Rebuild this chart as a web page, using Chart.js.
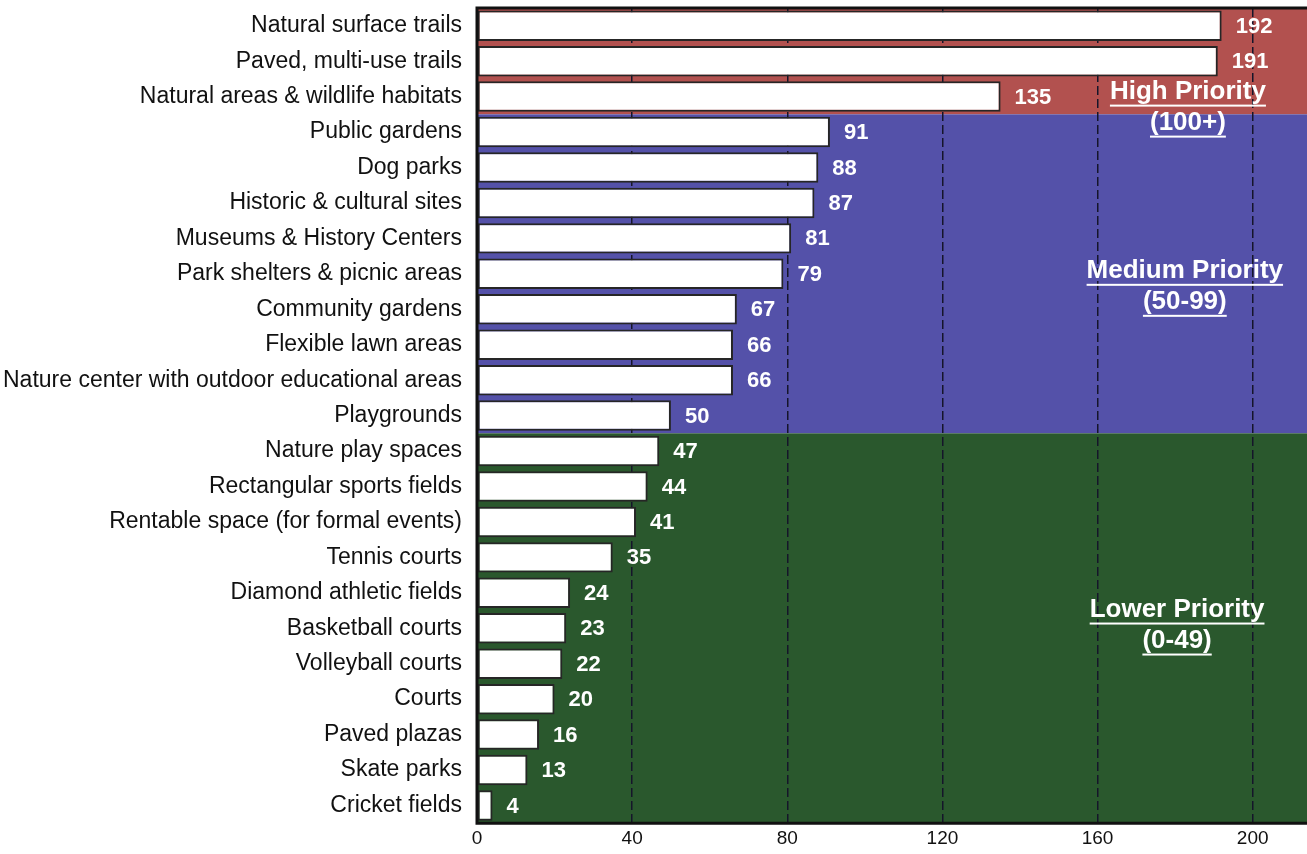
<!DOCTYPE html>
<html>
<head>
<meta charset="utf-8">
<script src="https://cdn.jsdelivr.net/npm/chart.js@4"></script>
<style>
  html, body { margin: 0; padding: 0; background: #ffffff; }
  #wrap { width: 1307px; height: 854px; position: relative; }
</style>
</head>
<body>
<div id="wrap"><canvas id="priorityChart"></canvas></div>
<script>
// Chart data
const categories = [
    'Natural surface trails', 'Paved, multi-use trails', 'Natural areas & wildlife habitats',
    'Public gardens', 'Dog parks', 'Historic & cultural sites', 'Museums & History Centers',
    'Park shelters & picnic areas', 'Community gardens', 'Flexible lawn areas',
    'Nature center with outdoor educational areas', 'Playgrounds', 'Nature play spaces',
    'Rectangular sports fields', 'Rentable space (for formal events)', 'Tennis courts',
    'Diamond athletic fields', 'Basketball courts', 'Volleyball courts', 'Courts',
    'Paved plazas', 'Skate parks', 'Cricket fields'
];
const votes = [192, 191, 135, 91, 88, 87, 81, 79, 67, 66, 66, 50, 47, 44, 41, 35, 24, 23, 22, 20, 16, 13, 4];
const xTicks = [0, 40, 80, 120, 160, 200];
const priorityBands = ['High Priority', 'Medium Priority', 'Lower Priority'];
const bandRanges = ['(100+)', '(50-99)', '(0-49)'];
const bandRows = [3, 9, 11]; // number of categories in each band
const bandColors = ['#b2514f', '#5451a9', '#2a582d'];

const FONT = '"Liberation Sans", Arial, sans-serif';

// Colored priority bands behind the bars, plus labels on top
const bandPlugin = {
    id: 'bands',
    beforeDraw(chart) {
        const { ctx, chartArea, scales } = chart;
        const y = scales.y;
        const half = (y.getPixelForValue(1) - y.getPixelForValue(0)) / 2;
        let start = 0;
        ctx.save();
        bandRows.forEach((n, i) => {
            const top = i === 0 ? chartArea.top : y.getPixelForValue(start) - half;
            const end = start + n - 1;
            const bottom = i === bandRows.length - 1 ? chartArea.bottom : y.getPixelForValue(end) + half;
            ctx.fillStyle = bandColors[i];
            ctx.fillRect(chartArea.left, top, chartArea.right - chartArea.left, bottom - top);
            start += n;
        });
        ctx.restore();
    },
    afterDatasetsDraw(chart) {
        const { ctx, chartArea, scales } = chart;
        const meta = chart.getDatasetMeta(0);
        ctx.save();
        // value labels
        ctx.fillStyle = '#ffffff';
        ctx.font = 'bold 22px ' + FONT;
        ctx.textAlign = 'left';
        ctx.textBaseline = 'middle';
        meta.data.forEach((bar, i) => {
            ctx.fillText(String(votes[i]), bar.x + 14, bar.y + 1);
        });
        // frame
        ctx.strokeStyle = '#111111';
        ctx.lineWidth = 3;
        ctx.beginPath();
        ctx.moveTo(chartArea.right + 2, chartArea.top);
        ctx.lineTo(chartArea.left, chartArea.top);
        ctx.lineTo(chartArea.left, chartArea.bottom);
        ctx.lineTo(chartArea.right + 2, chartArea.bottom);
        ctx.stroke();

        // band titles
        const y = scales.y;
        const x = scales.x;
        const anchors = [
            [x.getPixelForValue(183.3), y.getPixelForValue(2) - 5],
            [x.getPixelForValue(182.5), y.getPixelForValue(7) - 3],
            [x.getPixelForValue(180.5), (y.getPixelForValue(16) + y.getPixelForValue(17)) / 2 - 1]
        ];
        ctx.textAlign = 'center';
        ctx.textBaseline = 'middle';
        ctx.font = 'bold 26px ' + FONT;
        priorityBands.forEach((label, i) => {
            const [cx, cy] = anchors[i];
            [label, bandRanges[i]].forEach((txt, j) => {
                const ty = cy + j * 31;
                const w = ctx.measureText(txt).width;
                ctx.fillStyle = '#ffffff';
                ctx.fillText(txt, cx, ty);
                ctx.fillRect(cx - w / 2, ty + 13, w, 2);
            });
        });
        ctx.restore();
    }
};

function initPriorityChart() {
    const ctx = document.getElementById('priorityChart');
    if (!ctx) return;

    new Chart(ctx, {
        type: 'bar',
        data: {
            labels: categories,
            datasets: [{
                data: votes,
                backgroundColor: '#ffffff',
                borderColor: '#262626',
                borderWidth: 2,
                borderSkipped: false,
                barPercentage: 0.86,
                categoryPercentage: 1.0
            }]
        },
        options: {
            indexAxis: 'y',
            responsive: true,
            maintainAspectRatio: false,
            animation: false,
            layout: { padding: { top: 8, right: 0, bottom: 0, left: 0 } },
            plugins: {
                legend: { display: false },
                tooltip: { enabled: false }
            },
            scales: {
                x: {
                    min: 0,
                    max: 214,
                    afterBuildTicks: (axis) => {
                        axis.ticks = xTicks.map(v => ({ value: v }));
                    },
                    grid: {
                        color: '#15152a',
                        lineWidth: 1.5,
                        drawTicks: false
                    },
                    border: { display: false, dash: [9, 4] },
                    ticks: {
                        color: '#111111',
                        padding: 4,
                        font: { family: FONT, size: 19 }
                    }
                },
                y: {
                    afterFit: (axis) => {
                        axis.width = 477;
                        axis.paddingTop = 0;
                        axis.paddingBottom = 0;
                    },
                    grid: { display: false },
                    border: { display: false },
                    ticks: {
                        color: '#111111',
                        padding: 7,
                        autoSkip: false,
                        font: { family: FONT, size: 23 }
                    }
                }
            }
        },
        plugins: [bandPlugin]
    });
}

document.addEventListener('DOMContentLoaded', initPriorityChart);
</script>
</body>
</html>
